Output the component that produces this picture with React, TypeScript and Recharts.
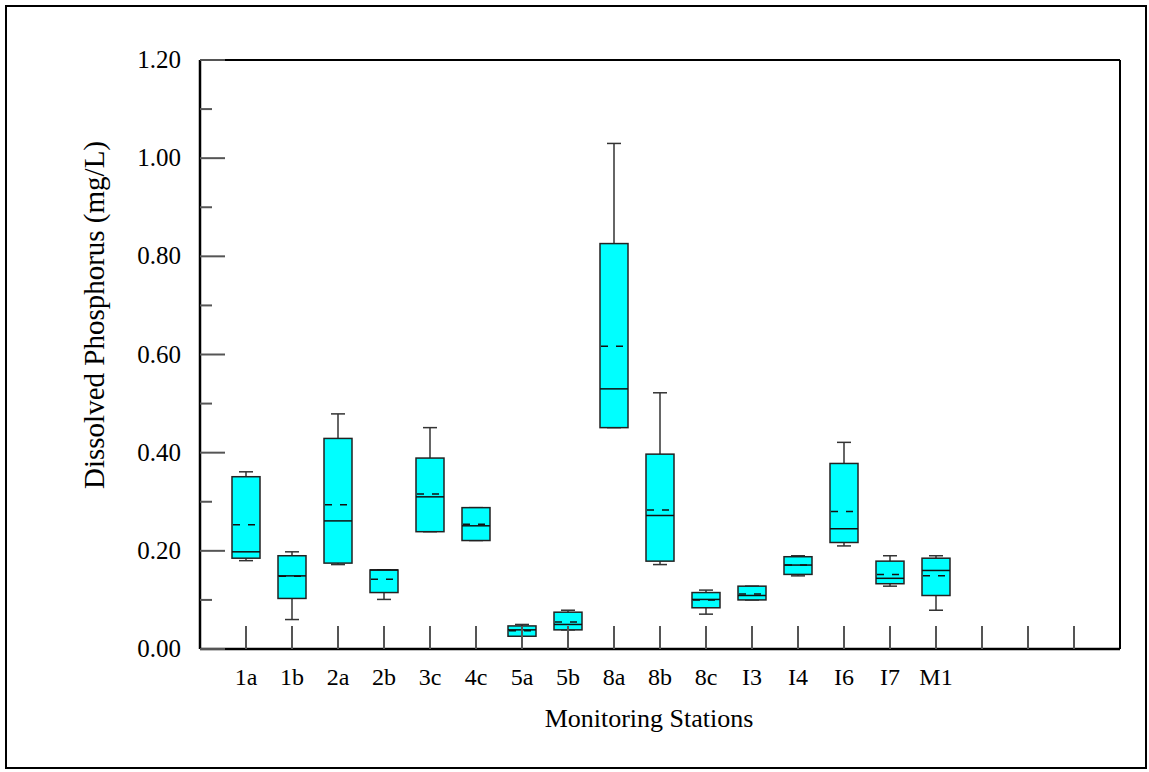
import { ComposedChart, Bar, XAxis, YAxis, ReferenceLine } from 'recharts';

const stations = ['1a', '1b', '2a', '2b', '3c', '4c', '5a', '5b', '8a', '8b', '8c', 'I3', 'I4', 'I6', 'I7', 'M1'];
const whiskerLow = [0.18, 0.06, 0.172, 0.101, 0.239, 0.221, 0.026, 0.039, 0.451, 0.172, 0.071, 0.1, 0.149, 0.21, 0.128, 0.079];
const q1 = [0.185, 0.103, 0.175, 0.115, 0.239, 0.221, 0.026, 0.039, 0.451, 0.179, 0.084, 0.1, 0.152, 0.217, 0.133, 0.109];
const median = [0.198, 0.149, 0.261, 0.161, 0.31, 0.251, 0.039, 0.05, 0.53, 0.272, 0.101, 0.109, 0.171, 0.245, 0.144, 0.16];
const mean = [0.253, 0.148, 0.294, 0.142, 0.316, 0.254, 0.037, 0.055, 0.617, 0.283, 0.1, 0.112, 0.171, 0.28, 0.152, 0.149];
const q3 = [0.351, 0.19, 0.429, 0.161, 0.389, 0.288, 0.047, 0.075, 0.826, 0.397, 0.115, 0.128, 0.188, 0.378, 0.179, 0.185];
const whiskerHigh = [0.361, 0.198, 0.479, 0.161, 0.451, 0.288, 0.05, 0.079, 1.03, 0.522, 0.12, 0.128, 0.19, 0.421, 0.19, 0.19];

// slots 17-19 are empty stations on the axis
const xTicks = Array.from({ length: 19 }, (_, i) => i + 1);
const yTicks = [0, 0.1, 0.2, 0.3, 0.4, 0.5, 0.6, 0.7, 0.8, 0.9, 1.0, 1.1, 1.2];

const data = stations.map((name, i) => ({
  x: i + 1,
  name,
  lo: whiskerLow[i],
  q1: q1[i],
  med: median[i],
  mean: mean[i],
  q3: q3[i],
  hi: whiskerHigh[i],
}));

const FONT = '"Liberation Serif", "Times New Roman", serif';

function BoxShape(props: any) {
  const { x, y, width, height, payload } = props;
  const p = payload;
  const k = height / (p.q3 - p.q1);
  const py = (v: number) => y + (p.q3 - v) * k;
  const cx = x + width / 2;
  const w = 28;
  const left = cx - w / 2;
  return (
    <g>
      <line x1={cx} x2={cx} y1={py(p.hi)} y2={py(p.q3)} stroke="#333" strokeWidth={1.5} />
      <line x1={cx - 7} x2={cx + 7} y1={py(p.hi)} y2={py(p.hi)} stroke="#333" strokeWidth={1.5} />
      <line x1={cx} x2={cx} y1={py(p.q1)} y2={py(p.lo)} stroke="#333" strokeWidth={1.5} />
      <line x1={cx - 7} x2={cx + 7} y1={py(p.lo)} y2={py(p.lo)} stroke="#333" strokeWidth={1.5} />
      <rect x={left} y={y} width={w} height={height} fill="#00FFFF" stroke="#222" strokeWidth={1.5} />
      <line x1={left} x2={left + w} y1={py(p.med)} y2={py(p.med)} stroke="#111" strokeWidth={1.5} />
      <line
        x1={left + 1}
        x2={left + w}
        y1={py(p.mean)}
        y2={py(p.mean)}
        stroke="#111"
        strokeWidth={1.5}
        strokeDasharray="7 8"
      />
    </g>
  );
}

function XTick(props: any) {
  const { x, y, payload } = props;
  const label = stations[payload.value - 1] ?? '';
  return (
    <g>
      <line x1={x} x2={x} y1={y} y2={y - 23} stroke="#555" strokeWidth={2} />
      <text x={x} y={y + 36} textAnchor="middle" fontFamily={FONT} fontSize={24} fill="#000">
        {label}
      </text>
    </g>
  );
}

function YTick(props: any) {
  const { x, y, payload } = props;
  const v = payload.value;
  const major = Math.round(v * 10) % 2 === 0;
  return (
    <g>
      <line x1={x} x2={x + (major ? 25 : 12)} y1={y} y2={y} stroke="#555" strokeWidth={2} />
      {major && (
        <text x={x - 19} y={y + 8} textAnchor="end" fontFamily={FONT} fontSize={25} fill="#000">
          {v.toFixed(2)}
        </text>
      )}
    </g>
  );
}

export default function App() {
  return (
    <div style={{ position: 'relative', width: 1149, height: 772 }}>
      <style>{'body{margin:0}'}</style>
      <div
        style={{
          position: 'absolute',
          left: 5,
          top: 5,
          width: 1142,
          height: 764,
          border: '2px solid #000',
          boxSizing: 'border-box',
        }}
      />
      <div style={{ position: 'absolute', left: 0, top: 0 }}>
        <ComposedChart width={1149} height={772} data={data} margin={{ top: 60, right: 29, left: 0, bottom: 0 }}>
          <XAxis
            dataKey="x"
            type="number"
            domain={[0, 20]}
            ticks={xTicks}
            interval={0}
            height={123}
            tickSize={0}
            tickMargin={0}
            tickLine={false}
            axisLine={{ stroke: '#000', strokeWidth: 2.5 }}
            tick={<XTick />}
            label={{
              content: () => (
                <text x={649} y={727} textAnchor="middle" fontFamily={FONT} fontSize={26} fill="#000">
                  Monitoring Stations
                </text>
              ),
            }}
          />
          <YAxis
            type="number"
            domain={[0, 1.2]}
            ticks={yTicks}
            interval={0}
            width={200}
            tickSize={0}
            tickMargin={0}
            tickLine={false}
            axisLine={{ stroke: '#000', strokeWidth: 2.5 }}
            tick={<YTick />}
            label={{
              content: () => (
                <text
                  x={104}
                  y={315}
                  transform="rotate(-90 104 315)"
                  textAnchor="middle"
                  fontFamily={FONT}
                  fontSize={29}
                  fill="#000"
                >
                  Dissolved Phosphorus (mg/L)
                </text>
              ),
            }}
          />
          <ReferenceLine y={1.2} stroke="#000" strokeWidth={2} />
          <ReferenceLine x={20} stroke="#000" strokeWidth={2} />
          <Bar dataKey={(d: any) => [d.q1, d.q3]} barSize={28} shape={<BoxShape />} isAnimationActive={false} />
        </ComposedChart>
      </div>
    </div>
  );
}
